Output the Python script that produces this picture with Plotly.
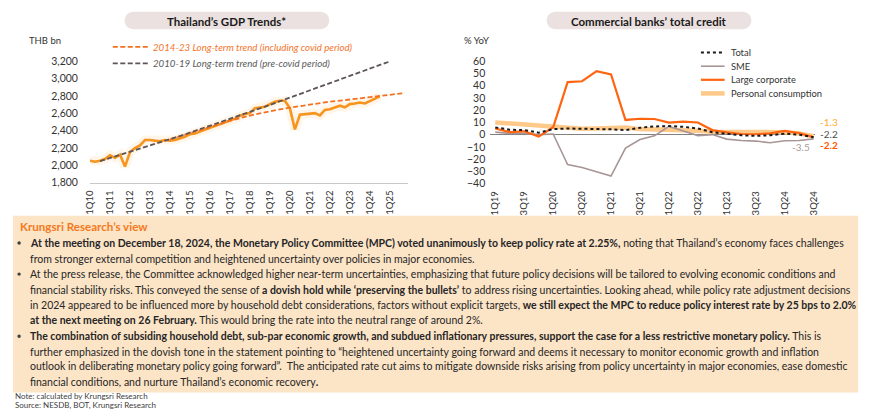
import plotly.graph_objects as go

W, H = 870, 417
FONT = "Lato, Roboto, Liberation Sans, sans-serif"

# ---------------- Left chart data: Thailand's GDP (THB bn) ----------------
gdp_quarters = [
    "1Q10", "2Q10", "3Q10", "4Q10", "1Q11", "2Q11", "3Q11", "4Q11",
    "1Q12", "2Q12", "3Q12", "4Q12", "1Q13", "2Q13", "3Q13", "4Q13",
    "1Q14", "2Q14", "3Q14", "4Q14", "1Q15", "2Q15", "3Q15", "4Q15",
    "1Q16", "2Q16", "3Q16", "4Q16", "1Q17", "2Q17", "3Q17", "4Q17",
    "1Q18", "2Q18", "3Q18", "4Q18", "1Q19", "2Q19", "3Q19", "4Q19",
    "1Q20", "2Q20", "3Q20", "4Q20", "1Q21", "2Q21", "3Q21", "4Q21",
    "1Q22", "2Q22", "3Q22", "4Q22", "1Q23", "2Q23", "3Q23", "4Q23",
    "1Q24", "2Q24", "3Q24", "4Q24", "1Q25", "2Q25", "3Q25", "4Q25",
]
gdp_tick_labels = ["1Q10", "1Q11", "1Q12", "1Q13", "1Q14", "1Q15", "1Q16", "1Q17",
                   "1Q18", "1Q19", "1Q20", "1Q21", "1Q22", "1Q23", "1Q24", "1Q25"]
gdp_actual = [
    2054, 2043, 2054, 2073, 2117, 2088, 2125, 1987,
    2155, 2200, 2230, 2293, 2293, 2285, 2278, 2293,
    2285, 2293, 2312, 2330, 2360, 2367, 2390, 2416,
    2435, 2453, 2472, 2491, 2517, 2539, 2573, 2592,
    2603, 2659, 2670, 2677, 2707, 2733, 2745, 2745,
    2659, 2416, 2584, 2592, 2595, 2603, 2577, 2640,
    2647, 2666, 2689, 2670, 2707, 2715, 2726, 2715,
    2741, 2771, 2797,
]
trend_covid_x = ["1Q14", "1Q15", "1Q16", "1Q17", "1Q18", "1Q19", "1Q20",
                 "1Q21", "1Q22", "1Q23", "1Q24", "1Q25", "4Q25"]
trend_covid_y = [2300, 2370, 2445, 2515, 2575, 2625, 2666,
                 2704, 2735, 2760, 2785, 2815, 2835]
trend_precovid_x = ["3Q10", "1Q11", "1Q12", "1Q13", "1Q14", "1Q15", "1Q16", "1Q17",
                    "1Q18", "1Q19", "1Q20", "1Q21", "1Q22", "1Q23", "1Q24", "1Q25"]
trend_precovid_y = [2050, 2085, 2155, 2228, 2302, 2378, 2456, 2535,
                    2615, 2698, 2782, 2866, 2950, 3036, 3120, 3200]
gdp_y_ticks = [1800, 2000, 2200, 2400, 2600, 2800, 3000, 3200]

# ---------------- Right chart data: credit growth (% YoY) ----------------
credit_quarters = [
    "1Q19", "2Q19", "3Q19", "4Q19", "1Q20", "2Q20", "3Q20", "4Q20",
    "1Q21", "2Q21", "3Q21", "4Q21", "1Q22", "2Q22", "3Q22", "4Q22",
    "1Q23", "2Q23", "3Q23", "4Q23", "1Q24", "2Q24", "3Q24",
]
credit_tick_labels = ["1Q19", "3Q19", "1Q20", "3Q20", "1Q21", "3Q21",
                      "1Q22", "3Q22", "1Q23", "3Q23", "1Q24", "3Q24"]
credit_total = [5.9, 4.0, 3.7, 1.6, 4.5, 5.0, 4.8, 4.8, 4.3, 3.7, 5.6, 6.7,
                7.0, 6.4, 5.0, 1.9, 0.5, -0.5, -1.0, -0.5, 0.8, 0.0, -2.2]
credit_sme = [2.0, 1.0, 1.0, 0.0, 0.5, -24.5, -27.0, -30.5, -34.0, -11.0, -4.0, -1.0,
              6.7, 3.0, -0.8, 0.0, -3.7, -4.8, -5.3, -6.7, -5.0, -4.8, -3.5]
credit_large = [5.0, 2.0, 2.7, -1.6, 6.0, 43.0, 43.7, 52.0, 49.3, 12.0, 13.0, 12.8,
                9.9, 10.7, 9.9, 3.7, 1.9, 0.5, 0.3, 1.0, 3.0, 1.3, -2.2]
credit_personal = [10.0, 9.0, 8.8, 7.7, 5.9, 5.0, 4.8, 5.0, 5.6, 5.9, 4.5, 4.3,
                   4.0, 3.7, 3.2, 2.4, 2.4, 1.9, 1.6, 2.4, 1.9, 1.0, -1.3]
credit_y_ticks = [-40, -30, -20, -10, 0, 10, 20, 30, 40, 50, 60]

# ---------------- colours ----------------
C_GDP = "#F7941D"
C_TREND_OR = "#F4701F"
C_TREND_GR = "#5E5557"
C_TOTAL = "#1A1A1A"
C_SME = "#A89595"
C_LARGE = "#FF6410"
C_PERS = "#FFC98A"
C_TXT = "#262626"
DASH = "5px,2.5px"


def fx(px):
    return px / W


def fy(py):
    return 1 - py / H


fig = go.Figure()

# left chart traces
n_act = len(gdp_actual)
fig.add_trace(go.Scatter(x=gdp_quarters[:n_act], y=gdp_actual, mode="lines",
                         line=dict(color="rgba(255,190,110,0.16)", width=9),
                         xaxis="x", yaxis="y", hoverinfo="skip", showlegend=False))
fig.add_trace(go.Scatter(x=gdp_quarters[:n_act], y=gdp_actual, mode="lines",
                         line=dict(color=C_GDP, width=2.6), name="GDP",
                         xaxis="x", yaxis="y", showlegend=False))
fig.add_trace(go.Scatter(x=trend_covid_x, y=trend_covid_y, mode="lines",
                         line=dict(color=C_TREND_OR, width=1.8, dash=DASH),
                         xaxis="x", yaxis="y", showlegend=False,
                         name="2014-23 Long-term trend (including covid period)"))
fig.add_trace(go.Scatter(x=trend_precovid_x, y=trend_precovid_y, mode="lines",
                         line=dict(color=C_TREND_GR, width=1.8, dash=DASH),
                         xaxis="x", yaxis="y", showlegend=False,
                         name="2010-19 Long-term trend (pre-covid period)"))

# right chart traces
fig.add_trace(go.Scatter(x=credit_quarters, y=credit_personal, mode="lines",
                         line=dict(color=C_PERS, width=4.5), name="Personal consumption",
                         xaxis="x2", yaxis="y2", showlegend=False))
fig.add_trace(go.Scatter(x=credit_quarters, y=credit_sme, mode="lines",
                         line=dict(color=C_SME, width=1.6), name="SME",
                         xaxis="x2", yaxis="y2", showlegend=False))
fig.add_trace(go.Scatter(x=credit_quarters, y=credit_large, mode="lines",
                         line=dict(color=C_LARGE, width=2.2), name="Large corporate",
                         xaxis="x2", yaxis="y2", showlegend=False))
fig.add_trace(go.Scatter(x=credit_quarters, y=credit_total, mode="lines",
                         line=dict(color=C_TOTAL, width=2, dash="dot"), name="Total",
                         xaxis="x2", yaxis="y2", showlegend=False))

shapes = []
annotations = []


def note(px, py, text, size, color, xanchor="left"):
    annotations.append(dict(x=fx(px), y=fy(py), xref="paper", yref="paper", showarrow=False,
                            xanchor=xanchor, yanchor="middle", text=text,
                            font=dict(size=size, color=color)))


def pill(x0, y0, x1, y1, color):
    r = (y1 - y0) / 2
    k = 0.5523 * r
    pts = [
        ("M", [(x0 + r, y0)]),
        ("L", [(x1 - r, y0)]),
        ("C", [(x1 - r + k, y0), (x1, y0 + r - k), (x1, y0 + r)]),
        ("C", [(x1, y0 + r + k), (x1 - r + k, y1), (x1 - r, y1)]),
        ("L", [(x0 + r, y1)]),
        ("C", [(x0 + r - k, y1), (x0, y1 - r + k), (x0, y1 - r)]),
        ("C", [(x0, y0 + r - k), (x0 + r - k, y0), (x0 + r, y0)]),
    ]
    path = ""
    for cmd, pl in pts:
        path += cmd + " " + " ".join(f"{fx(a):.5f},{fy(b):.5f}" for a, b in pl) + " "
    path += "Z"
    return dict(type="path", path=path, xref="paper", yref="paper",
                fillcolor=color, line=dict(width=0), layer="below")


shapes.append(pill(120, 6, 327, 24, "#EAE1E0"))
shapes.append(pill(547, 6, 754, 24, "#EAE1E0"))
note(223.5, 15.5, "<b>Thailand’s GDP Trends*</b>", 11.5, "#1A1A1A", "center")
note(650.5, 15.5, "<b>Commercial banks’ total credit</b>", 11.5, "#1A1A1A", "center")
note(21, 36, "THB bn", 9.5, "#333333")
note(461, 36, "% YoY", 9.5, "#333333")

# left legend (manual)
leg_left = [
    (42, C_TREND_OR, "2014-23 Long-term trend (including covid period)", "#F4742B"),
    (59, C_TREND_GR, "2010-19 Long-term trend (pre-covid period)", "#595959"),
]
for yy, col, txt, tcol in leg_left:
    shapes.append(dict(type="line", xref="paper", yref="paper", x0=fx(108), x1=fx(144),
                       y0=fy(yy), y1=fy(yy), line=dict(color=col, width=1.8, dash=DASH)))
    note(147, yy, f"<i>{txt}</i>", 9.7, tcol)

# right legend (manual)
leg_right = [
    (48, C_TOTAL, "dot", 2, "Total"),
    (62, C_SME, "solid", 1.6, "SME"),
    (76, C_LARGE, "solid", 2.2, "Large corporate"),
    (90, C_PERS, "solid", 4.5, "Personal consumption"),
]
for yy, col, dash, w, txt in leg_right:
    shapes.append(dict(type="line", xref="paper", yref="paper", x0=fx(703), x1=fx(727),
                       y0=fy(yy), y1=fy(yy), line=dict(color=col, width=w, dash=dash)))
    note(731, yy, txt, 9.4, "#333333")

# end-point data labels (right chart)
last = credit_quarters[-1]


def dlabel(val, text, color, xanchor, xshift, yshift):
    annotations.append(dict(x=last, y=val, xref="x2", yref="y2", showarrow=False,
                            xanchor=xanchor, yanchor="middle", xshift=xshift, yshift=yshift,
                            text=text, font=dict(size=10, color=color)))


dlabel(credit_personal[-1], f"{credit_personal[-1]:.1f}", "#FFAA33", "left", 4, 14)
dlabel(credit_total[-1], f"{credit_total[-1]:.1f}", "#4D4D4D", "left", 4, 3)
dlabel(credit_large[-1], f"<b>{credit_large[-1]:.1f}</b>", "#FF5A00", "left", 4, -8)
dlabel(credit_sme[-1], f"{credit_sme[-1]:.1f}", "#A89A9A", "right", -2, -8)

# ---------------- commentary box ----------------
shapes.append(dict(type="rect", xref="paper", yref="paper", x0=fx(7), x1=fx(862),
                   y0=fy(398), y1=fy(216), fillcolor="#FCE4C6", line=dict(width=0), layer="below"))
note(12, 227, "<b>Krungsri Research’s view</b>", 11.6, "#F47920")

body_lines = [
    (244, True, "<b>At the meeting on December 18, 2024, the Monetary Policy Committee (MPC) voted unanimously to keep policy rate at 2.25%,</b> noting that Thailand’s economy faces challenges"),
    (260, False, "from stronger external competition and heightened uncertainty over policies in major economies."),
    (276, True, "At the press release, the Committee acknowledged higher near-term uncertainties, emphasizing that future policy decisions will be tailored to evolving economic conditions and"),
    (292, False, "financial stability risks. This conveyed the sense of <b>a dovish hold while ‘preserving the bullets’</b> to address rising uncertainties. Looking ahead, while policy rate adjustment decisions"),
    (308, False, "in 2024 appeared to be influenced more by household debt considerations, factors without explicit targets, <b>we still expect the MPC to reduce policy interest rate by 25 bps to 2.0%</b>"),
    (323, False, "<b>at the next meeting on 26 February.</b> This would bring the rate into the neutral range of around 2%."),
    (340, True, "<b>The combination of subsiding household debt, sub-par economic growth, and subdued inflationary pressures, support the case for a less restrictive monetary policy.</b> This is"),
    (356, False, "further emphasized in the dovish tone in the statement pointing to “heightened uncertainty going forward and deems it necessary to monitor economic growth and inflation"),
    (371, False, "outlook in deliberating monetary policy going forward”.  The anticipated rate cut aims to mitigate downside risks arising from policy uncertainty in major economies, ease domestic"),
    (387, False, "financial conditions, and nurture Thailand’s economic recovery<b>.</b>"),
]
for yy, bullet, txt in body_lines:
    note(22, yy, txt, 10.5, C_TXT)
    if bullet:
        shapes.append(dict(type="circle", xref="paper", yref="paper",
                           x0=fx(11.5), x1=fx(15), y0=fy(yy + 1.8), y1=fy(yy - 1.7),
                           fillcolor="#404040", line=dict(width=0)))

note(7, 402, "Note: calculated by Krungsri Research", 8, "#404040")
note(7, 411, "Source: NESDB, BOT, Krungsri Research", 8, "#404040")

fig.update_layout(
    width=W, height=H, margin=dict(l=0, r=0, t=0, b=0),
    paper_bgcolor="white", plot_bgcolor="rgba(0,0,0,0)",
    font=dict(family=FONT, color="#333333"),
    showlegend=False,
    shapes=shapes, annotations=annotations,
    xaxis=dict(domain=[fx(85), fx(407)], type="category", categoryorder="array",
               categoryarray=gdp_quarters, range=[0, 63.7], tickmode="array",
               tickvals=gdp_tick_labels, ticktext=gdp_tick_labels, tickangle=-90,
               showline=True, linecolor="#C8C8C8", linewidth=1, showgrid=False,
               ticks="outside", ticklen=3, tickcolor="rgba(0,0,0,0)",
               tickfont=dict(size=9.5, color="#333333"), anchor="y"),
    yaxis=dict(domain=[fy(182), fy(57)], range=[1800, 3200], tickmode="array",
               tickvals=gdp_y_ticks, tickformat=",d", showgrid=False, zeroline=False,
               showline=False, ticks="outside", ticklen=9, tickcolor="rgba(0,0,0,0)",
               tickfont=dict(size=10.5, color="#333333"), anchor="x"),
    xaxis2=dict(domain=[fx(490), fx(818)], type="category", categoryorder="array",
                categoryarray=credit_quarters, range=[-0.34, 22.07], tickmode="array",
                tickvals=credit_tick_labels, ticktext=credit_tick_labels, tickangle=-90,
                showline=False, showgrid=False, ticks="outside", ticklen=3,
                tickcolor="rgba(0,0,0,0)", tickfont=dict(size=9.5, color="#333333"),
                anchor="y2"),
    yaxis2=dict(domain=[fy(182.7), fy(57)], range=[-40, 60], tickmode="array",
                tickvals=credit_y_ticks, showgrid=False, zeroline=True,
                zerolinecolor="#808080", zerolinewidth=1, showline=False,
                ticks="outside", ticklen=2, tickcolor="rgba(0,0,0,0)",
                tickfont=dict(size=10.5, color="#333333"), anchor="x2"),
)

fig.write_html("out.html", config={"displayModeBar": False},
               post_script="document.body.style.margin='0px';")
